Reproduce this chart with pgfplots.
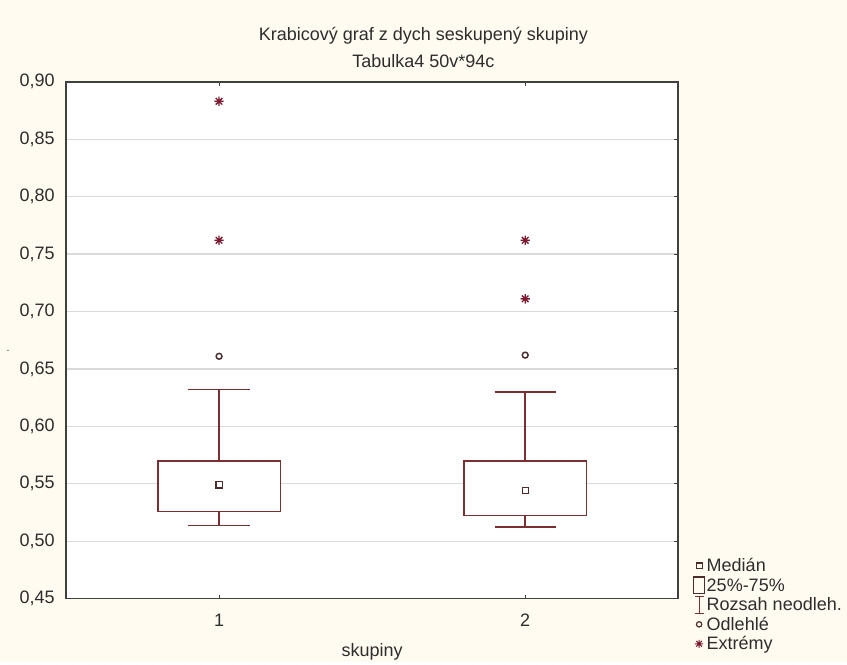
\documentclass[border=0pt]{standalone}
\usepackage{pgfplots}
\pgfplotsset{compat=1.18}
\usepgfplotslibrary{statistics}
\usepackage{fontspec}
\setmainfont{Liberation Sans}
\definecolor{bgcream}{RGB}{255,251,240}
\definecolor{boxred}{RGB}{122,48,48}
\definecolor{starred}{RGB}{125,28,48}
\definecolor{markdark}{RGB}{75,45,45}
\definecolor{gridgray}{RGB}{218,218,218}
\definecolor{framegray}{RGB}{64,64,64}
\definecolor{textgray}{RGB}{45,45,45}
\pgfdeclareplotmark{star8}{%
  \pgfpathmoveto{\pgfqpoint{0pt}{\pgfplotmarksize}}\pgfpathlineto{\pgfqpoint{0pt}{-\pgfplotmarksize}}%
  \pgfpathmoveto{\pgfqpoint{\pgfplotmarksize}{0pt}}\pgfpathlineto{\pgfqpoint{-\pgfplotmarksize}{0pt}}%
  \pgfpathmoveto{\pgfqpointpolar{45}{\pgfplotmarksize}}\pgfpathlineto{\pgfqpointpolar{225}{\pgfplotmarksize}}%
  \pgfpathmoveto{\pgfqpointpolar{135}{\pgfplotmarksize}}\pgfpathlineto{\pgfqpointpolar{315}{\pgfplotmarksize}}%
  \pgfusepathqstroke}
\begin{document}
\begin{tikzpicture}[font=\fontsize{13.5}{16}\selectfont, text=textgray]
\fill[bgcream] (0,0) rectangle (635.25pt,-496.5pt);
\begin{axis}[
  at={(49.5pt,-449pt)}, anchor=south west,
  scale only axis, width=459.2pt, height=387.7pt,
  xmin=0.5, xmax=2.5, ymin=0.45, ymax=0.90,
  xtick={1,2}, xticklabels={1,2},
  ytick={0.45,0.50,0.55,0.60,0.65,0.70,0.75,0.80,0.85,0.90},
  /pgf/number format/assume math mode=true,
  yticklabel style={/pgf/number format/fixed, /pgf/number format/fixed zerofill,
    /pgf/number format/precision=2, /pgf/number format/use comma,
    anchor=east, xshift=-5pt},
  xticklabel style={anchor=center, yshift=-16pt},
  xtick pos=both, ytick pos=right, yticklabel pos=left, xticklabel pos=bottom,
  tick align=inside, major tick length=3pt,
  tick style={framegray, line width=0.8pt},
  axis line style={framegray, line width=1.2pt},
  axis background/.style={fill=white},
  ymajorgrids, major grid style={gridgray, line width=0.9pt},
  xlabel={skupiny},
  xlabel style={at={(axis description cs:0.5,0)}, anchor=center, yshift=-40pt},
  boxplot/draw direction=y,
  boxplot/draw/median/.code={},
  legend style={at={(1.0158,-0.113)}, anchor=south west, draw=none, fill=none,
    cells={anchor=west}, row sep=0.6pt, column sep=0pt,
    nodes={inner sep=0.5pt, text height=10pt, text depth=3pt},
    font=\fontsize{13.5}{15}\selectfont},
]
\addplot[forget plot, boxplot prepared={draw position=1, median=0.549,
  upper quartile=0.570, lower quartile=0.526, upper whisker=0.632, lower whisker=0.5135,
  box extend=0.4, whisker extend=0.2}, draw=boxred, fill=white, line width=1.1pt, solid] coordinates {};
\addplot[forget plot, boxplot prepared={draw position=2, median=0.544,
  upper quartile=0.570, lower quartile=0.5226, upper whisker=0.630, lower whisker=0.5124,
  box extend=0.4, whisker extend=0.2}, draw=boxred, fill=white, line width=1.1pt, solid] coordinates {};
% medians
\addplot[forget plot, only marks, mark=square, mark size=2.3pt, draw=markdark, line width=0.9pt]
  coordinates {(1,0.549) (2,0.544)};
% outliers
\addplot[forget plot, only marks, mark=o, mark size=2.2pt, draw=markdark, line width=1.1pt]
  coordinates {(1,0.661) (2,0.662)};
% extremes
\addplot[forget plot, only marks, mark=star8, mark size=3.5pt, draw=starred, line width=1pt]
  coordinates {(1,0.883) (1,0.762) (2,0.762) (2,0.711)};
% legend
\addlegendimage{legend image code/.code={\path (-5pt,0) (5pt,0);
  \draw[overlay, markdark, line width=0.8pt] (-2.2pt,-1.45pt) rectangle (2.2pt,2.95pt);}}
\addlegendentry{Medián}
\addlegendimage{legend image code/.code={\path (-5pt,0) (5pt,0);
  \draw[overlay, markdark, line width=0.8pt] (-4.3pt,-5.55pt) rectangle (4.3pt,7.05pt);}}
\addlegendentry{25\%-75\%}
\addlegendimage{legend image code/.code={\path (-5pt,0) (5pt,0);
  \draw[overlay, boxred, line width=0.8pt] (-3.3pt,-5.55pt) -- (3.3pt,-5.55pt) (-3.3pt,7.05pt) -- (3.3pt,7.05pt) (0,-5.55pt) -- (0,7.05pt);}}
\addlegendentry{Rozsah neodleh.}
\addlegendimage{legend image code/.code={\path (-5pt,0) (5pt,0);
  \draw[overlay, markdark, line width=0.9pt] (0,0.75pt) circle (2pt);}}
\addlegendentry{Odlehlé}
\addlegendimage{legend image code/.code={\path (-5pt,0) (5pt,0);
  \draw[overlay, starred, line width=0.8pt] (0,-2.25pt) -- (0,3.75pt) (-3pt,0.75pt) -- (3pt,0.75pt) (-2.1pt,-1.35pt) -- (2.1pt,2.85pt) (-2.1pt,2.85pt) -- (2.1pt,-1.35pt);}}
\addlegendentry{Extrémy}
\end{axis}
\node[anchor=center] at (317.6pt,-27pt) {Krabicový graf z dych seskupený skupiny};
\node[anchor=center] at (317.6pt,-45.75pt) {Tabulka4 50v*94c};
\node[anchor=center, font=\fontsize{8}{9}\selectfont] at (6pt,-263pt) {.};
\end{tikzpicture}
\end{document}
